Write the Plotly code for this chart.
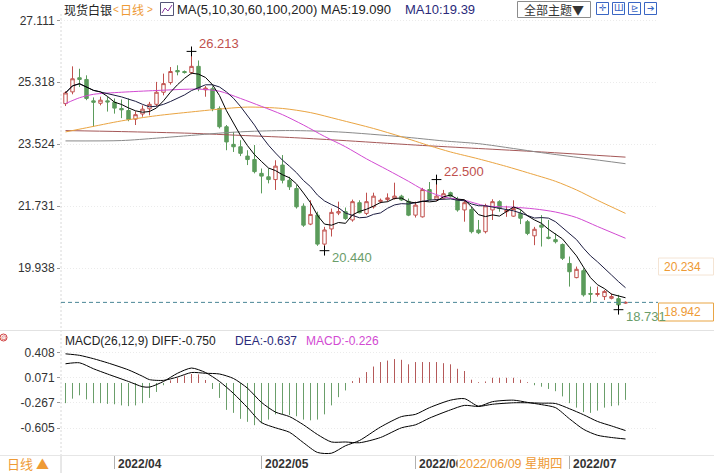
import plotly.graph_objects as go
import pandas as pd

W, H = 714, 473

# ---------------- data ----------------
dates = pd.bdate_range("2022-03-23", periods=81)
opens = [24.70, 25.04, 25.45, 25.40, 24.78, 24.71, 24.78, 24.74, 24.56, 24.50,
         24.25, 24.40, 24.55, 24.68, 25.03, 25.31, 25.66, 25.63, 25.60, 25.78,
         25.10, 25.13, 24.56, 24.03, 23.52, 23.45, 23.18, 23.08, 22.68, 22.58,
         22.50, 22.92, 22.48, 22.24, 21.73, 21.21, 21.47, 20.63, 21.07, 21.53,
         21.57, 21.33, 21.83, 21.52, 21.71, 21.86, 21.92, 21.95, 22.02, 21.87,
         21.47, 21.42, 22.21, 21.93, 21.96, 22.12, 21.92, 21.62, 21.63, 21.04,
         20.99, 21.62, 21.86, 21.57, 21.44, 21.52, 21.28, 20.87, 21.18, 20.83,
         20.76, 20.62, 20.07, 19.66, 19.86, 19.20, 19.17, 19.11, 19.06, 19.05,
         18.92]
highs = [25.06, 25.78, 25.71, 25.52, 24.88, 24.90, 24.90, 24.85, 24.82, 24.85,
         24.48, 24.65, 24.75, 25.33, 25.57, 25.76, 25.81, 25.66, 26.213, 25.95,
         25.21, 25.20, 24.62, 24.08, 23.88, 23.64, 23.35, 23.50, 22.82, 22.82,
         23.06, 23.21, 22.58, 22.34, 21.81, 21.90, 21.57, 21.13, 21.66, 21.86,
         21.69, 21.92, 21.90, 22.12, 22.12, 21.95, 22.10, 22.41, 22.06, 21.95,
         21.86, 22.26, 22.43, 22.50, 22.20, 22.15, 22.00, 21.91, 21.71, 21.33,
         21.80, 21.93, 21.90, 21.74, 21.90, 21.62, 21.33, 21.13, 21.47, 21.33,
         20.94, 20.65, 20.27, 19.98, 19.93, 19.40, 19.40, 19.30, 19.20, 19.16,
         18.97]
lows = [24.63, 24.97, 25.18, 24.80, 24.03, 24.65, 24.47, 24.41, 24.28, 24.19,
        24.08, 24.32, 24.36, 24.62, 24.94, 25.25, 25.52, 25.57, 25.55, 25.06,
        24.90, 24.48, 23.98, 23.35, 23.30, 23.18, 22.92, 22.68, 22.10, 22.39,
        22.20, 22.39, 22.20, 21.66, 21.13, 21.18, 20.58, 20.44, 20.85, 21.47,
        21.33, 21.28, 21.52, 21.47, 21.66, 21.81, 21.86, 21.92, 21.88, 21.44,
        21.40, 21.40, 21.90, 21.88, 21.95, 21.98, 21.57, 21.28, 20.94, 20.92,
        20.94, 21.33, 21.57, 21.42, 21.42, 21.21, 20.89, 20.60, 20.56, 20.77,
        20.65, 20.17, 19.40, 19.64, 19.11, 18.94, 19.11, 19.01, 19.03, 18.731,
        18.90]
closes = [25.01, 25.42, 25.40, 24.85, 24.74, 24.80, 24.75, 24.57, 24.52, 24.24,
          24.38, 24.54, 24.68, 25.03, 25.28, 25.63, 25.62, 25.60, 25.78, 25.14,
          25.15, 24.56, 24.03, 23.59, 23.45, 23.26, 23.08, 22.73, 22.60, 22.50,
          22.89, 22.48, 22.29, 21.71, 21.18, 21.49, 20.63, 21.04, 21.55, 21.57,
          21.37, 21.86, 21.54, 21.86, 22.02, 21.90, 21.97, 22.02, 21.91, 21.47,
          21.76, 22.21, 21.92, 22.02, 22.09, 22.02, 21.62, 21.83, 20.99, 20.96,
          21.74, 21.86, 21.66, 21.61, 21.66, 21.38, 20.94, 21.06, 21.12, 20.80,
          20.70, 20.22, 19.83, 19.90, 19.16, 19.18, 19.20, 19.26, 19.11, 18.87,
          18.942]

# long moving averages (candle index, value)
ma30_idx = [0, 2, 4, 8, 13, 19, 22, 25, 28, 31, 34, 37, 40, 43, 46, 49, 51, 54, 57, 60, 64, 67, 70, 73, 76, 80]
ma30_val = [24.70, 24.87, 24.97, 25.03, 25.08, 25.12, 25.06, 24.85, 24.62, 24.38, 24.08, 23.75, 23.45,
            23.10, 22.78, 22.45, 22.22, 22.00, 21.90, 21.74, 21.70, 21.65, 21.56, 21.40, 21.14, 20.80]
ma60_idx = [0, 3, 8, 13, 18, 23, 26, 31, 35, 39, 44, 48, 52, 55, 59, 63, 66, 70, 73, 76, 80]
ma60_val = [23.88, 24.00, 24.20, 24.35, 24.46, 24.56, 24.60, 24.56, 24.44, 24.24, 23.98, 23.74,
            23.48, 23.30, 23.10, 22.88, 22.70, 22.45, 22.20, 21.90, 21.52]
ma100_idx = [0, 8, 13, 18, 23, 27, 32, 39, 48, 54, 59, 64, 68, 74, 80]
ma100_val = [23.62, 23.63, 23.70, 23.78, 23.86, 23.90, 23.92, 23.88, 23.74, 23.62, 23.54, 23.40, 23.28, 23.12, 22.96]
ma200_idx = [0, 8, 18, 25, 32, 39, 50, 59, 68, 80]
ma200_val = [23.92, 23.89, 23.84, 23.78, 23.72, 23.64, 23.50, 23.40, 23.30, 23.15]

macd_hist = [-0.27, -0.21, -0.165, -0.22, -0.27, -0.27, -0.28, -0.285, -0.30, -0.31,
             -0.30, -0.27, -0.20, -0.12, -0.03, 0.035, 0.07, 0.10, 0.12, 0.115,
             0.04, -0.08, -0.20, -0.36, -0.40, -0.48, -0.52, -0.565, -0.54, -0.49,
             -0.42, -0.42, -0.43, -0.445, -0.49, -0.50, -0.49, -0.42, -0.30, -0.19,
             -0.10, 0.025, 0.07, 0.146, 0.22, 0.28, 0.30, 0.32, 0.31, 0.25,
             0.28, 0.28, 0.28, 0.28, 0.265, 0.25, 0.19, 0.16, 0.044, 0.01,
             0.02, 0.07, 0.07, 0.07, 0.07, 0.044, 0.01, -0.03, -0.05, -0.08,
             -0.11, -0.18, -0.27, -0.33, -0.39, -0.40, -0.37, -0.33, -0.31, -0.30,
             -0.226]
diff_idx = [0, 2, 4, 6, 9, 11, 12, 14, 16, 18, 20, 22, 24, 26, 28, 30, 32, 34, 36, 38, 40, 42,
            45, 48, 50, 52, 55, 57, 59, 61, 64, 66, 68, 70, 72, 74, 76, 78, 80]
diff_val = [0.257, 0.27, 0.19, 0.12, 0.02, -0.05, -0.055, 0.02, 0.13, 0.20, 0.14, 0.02, -0.14, -0.33,
            -0.53, -0.60, -0.66, -0.80, -0.93, -0.94, -0.84, -0.77, -0.59, -0.45, -0.42, -0.33, -0.23,
            -0.21, -0.31, -0.25, -0.23, -0.26, -0.29, -0.33, -0.48, -0.62, -0.70, -0.73, -0.75]
dea_idx = diff_idx
dea_val = [0.39, 0.37, 0.325, 0.27, 0.175, 0.09, 0.045, 0.035, 0.08, 0.14, 0.13, 0.12, 0.06, -0.07,
           -0.26, -0.39, -0.45, -0.56, -0.69, -0.79, -0.79, -0.80, -0.73, -0.60, -0.56, -0.47, -0.36,
           -0.30, -0.315, -0.285, -0.265, -0.265, -0.27, -0.275, -0.345, -0.425, -0.515, -0.575, -0.637]

price_ticks_left = [27.111, 25.318, 23.524, 21.731, 19.938]
price_ticks_right = [27.111, 25.318, 23.524, 21.731]
macd_ticks = [0.408, 0.071, -0.267, -0.605]
month_labels = ["2022/04", "2022/05", "2022/06", "2022/07"]
last_price = 18.942
cross_price = 20.234
extremes = [(18, 26.213, "26.213", "high"), (53, 22.500, "22.500", "high"),
            (37, 20.440, "20.440", "low"), (79, 18.731, "18.731", "low")]

# ---------------- derived ----------------
xs = list(range(len(closes)))
cs = pd.Series(closes)
ma5 = cs.rolling(5, min_periods=1).mean()
ma10 = cs.rolling(10, min_periods=1).mean()
month_idx = [i for i in range(1, len(dates)) if dates[i].month != dates[i - 1].month]

RED = "#c0504d"
GREEN = "#5b9b5b"
ORANGE = "#ee9a35"
NAVY = "#2a2a7a"
MAG = "#d24ad2"
LAT = "Liberation Sans, Arial, Noto Sans CJK SC, sans-serif"
CJK = "Noto Sans CJK SC, Liberation Sans, sans-serif"

XL, XR = 61, 656
px_per = 7.0
r0 = -(65.5 - XL) / px_per
r1 = r0 + (XR - XL) / px_per

# main price panel mapping
P_TOP, P_BOT = 15, 328
p_scale = 34.52
p_hi = 27.111 + (20.4 - P_TOP) / p_scale
p_lo = 27.111 - (P_BOT - 20.4) / p_scale
# macd panel mapping
M_TOP, M_BOT = 333, 455
m_scale = 74.7
m_hi = 0.408 + (352.5 - M_TOP) / m_scale
m_lo = 0.408 - (M_BOT - 352.5) / m_scale


def PX(px):
    return px / W


def PY(py):
    return 1 - py / H


fig = go.Figure()

fig.add_trace(go.Candlestick(
    x=xs, open=opens, high=highs, low=lows, close=closes,
    increasing=dict(line=dict(color=RED, width=1), fillcolor="#ffffff"),
    decreasing=dict(line=dict(color=GREEN, width=1), fillcolor=GREEN),
    whiskerwidth=0, hoverinfo="skip", showlegend=False, xaxis="x", yaxis="y"))

for ix, vals, col in [(ma200_idx, ma200_val, "#a55858"), (ma100_idx, ma100_val, "#8a8a8a"),
                      (ma60_idx, ma60_val, "#eaa441"), (ma30_idx, ma30_val, MAG)]:
    fig.add_trace(go.Scatter(x=ix, y=vals, mode="lines", line=dict(color=col, width=1, shape="spline", smoothing=0.8),
                             hoverinfo="skip", xaxis="x", yaxis="y"))
fig.add_trace(go.Scatter(x=xs, y=ma10, mode="lines", line=dict(color="#1b1b40", width=1), hoverinfo="skip",
                         xaxis="x", yaxis="y"))
fig.add_trace(go.Scatter(x=xs, y=ma5, mode="lines", line=dict(color="#000000", width=1), hoverinfo="skip",
                         xaxis="x", yaxis="y"))

# extreme markers
fig.add_trace(go.Scatter(x=[e[0] for e in extremes], y=[e[1] for e in extremes], mode="markers",
                         marker=dict(symbol="cross-thin", size=7, line=dict(color="#000", width=1)),
                         hoverinfo="skip", xaxis="x", yaxis="y"))

# MACD histogram as thin vertical lines
for sign, col in [(1, "#b55a5a"), (-1, "#6a9e6a")]:
    hx, hy = [], []
    for i, h in enumerate(macd_hist):
        if (h >= 0) == (sign > 0):
            hx += [i, i, None]
            hy += [0, h, None]
    fig.add_trace(go.Scatter(x=hx, y=hy, mode="lines", line=dict(color=col, width=1), hoverinfo="skip",
                             xaxis="x2", yaxis="y2"))
fig.add_trace(go.Scatter(x=diff_idx, y=diff_val, mode="lines", line=dict(color="#000", width=1, shape="spline", smoothing=0.7),
                         hoverinfo="skip", xaxis="x2", yaxis="y2"))
fig.add_trace(go.Scatter(x=dea_idx, y=dea_val, mode="lines", line=dict(color="#000", width=1, shape="spline", smoothing=0.7),
                         hoverinfo="skip", xaxis="x2", yaxis="y2"))

tickfont = dict(family=LAT, size=12, color="#333333")
grid = dict(showgrid=True, gridcolor="#ebebeb", griddash="1px,2px", gridwidth=1, zeroline=False)

fig.update_layout(
    width=W, height=H, margin=dict(l=0, r=0, t=0, b=0),
    paper_bgcolor="white", plot_bgcolor="white", showlegend=False,
    xaxis=dict(domain=[PX(XL), PX(XR)], range=[r0, r1], anchor="y", showticklabels=False, ticks="",
               showgrid=False, zeroline=False, rangeslider=dict(visible=False), fixedrange=True),
    xaxis2=dict(domain=[PX(XL), PX(XR)], range=[r0, r1], anchor="y2", tickvals=month_idx,
                ticktext=[""] * len(month_idx), ticks="outside", ticklen=13, tickcolor="#b0b0b0",
                showgrid=False, zeroline=False, showline=False),
    yaxis=dict(domain=[PY(P_BOT), PY(P_TOP)], range=[p_lo, p_hi], anchor="x",
               tickvals=price_ticks_left, ticktext=[f"{v:.3f}" for v in price_ticks_left],
               ticks="outside", ticklen=3, tickcolor="#999", tickfont=tickfont, **grid),
    yaxis3=dict(overlaying="y", side="right", anchor="x", range=[p_lo, p_hi],
                tickvals=price_ticks_right, ticktext=[f"{v:.3f}" for v in price_ticks_right],
                ticks="outside", ticklen=4, tickcolor="rgba(0,0,0,0)", tickfont=tickfont,
                showgrid=False, zeroline=False),
    yaxis2=dict(domain=[PY(M_BOT), PY(M_TOP)], range=[m_lo, m_hi], anchor="x2",
                tickvals=macd_ticks, ticktext=[f"{v:.3f}" for v in macd_ticks],
                ticks="outside", ticklen=3, tickcolor="#999", tickfont=tickfont, **grid),
    yaxis4=dict(overlaying="y2", side="right", anchor="x2", range=[m_lo, m_hi],
                tickvals=macd_ticks, ticktext=[f"{v:.3f}" for v in macd_ticks],
                ticks="outside", ticklen=4, tickcolor="rgba(0,0,0,0)", tickfont=tickfont,
                showgrid=False, zeroline=False),
)

shapes = []
# frame / separator lines
shapes.append(dict(type="line", xref="paper", yref="paper", x0=PX(XL), x1=PX(XL), y0=PY(14), y1=PY(455),
                   line=dict(color="#d8d8d8", width=1, dash="2px,2px")))
shapes.append(dict(type="line", xref="paper", yref="paper", x0=PX(XL), x1=PX(XL), y0=PY(455), y1=PY(473),
                   line=dict(color="#d0d0d0", width=1)))
shapes.append(dict(type="line", xref="paper", yref="paper", x0=0, x1=1, y0=PY(330.5), y1=PY(330.5),
                   line=dict(color="#e2e2e2", width=1)))
shapes.append(dict(type="line", xref="paper", yref="paper", x0=0, x1=1, y0=PY(455.5), y1=PY(455.5),
                   line=dict(color="#e6e6e6", width=1)))
# last price dashed line
shapes.append(dict(type="line", xref="paper", yref="y", x0=PX(XL), x1=PX(658), y0=last_price, y1=last_price,
                   line=dict(color="#4a8797", width=1, dash="4px,3px")))
# right side price boxes
shapes.append(dict(type="rect", xref="paper", yref="paper", x0=PX(658.5), x1=PX(713.5), y0=PY(258), y1=PY(275),
                   line=dict(color="#f4e4d4", width=1), fillcolor="white"))
shapes.append(dict(type="rect", xref="paper", yref="paper", x0=PX(658.5), x1=PX(713.5), y0=PY(303), y1=PY(321),
                   line=dict(color="#e9a545", width=1), fillcolor="white"))
# MA icon
shapes.append(dict(type="rect", xref="paper", yref="paper", x0=PX(160.5), x1=PX(173.5), y0=PY(2.5), y1=PY(15.5),
                   line=dict(color="#555577", width=1), fillcolor="white"))
shapes.append(dict(type="path", xref="paper", yref="paper",
                   path=f"M {PX(162)} {PY(13)} L {PX(165)} {PY(8)} L {PX(168)} {PY(11)} L {PX(172)} {PY(5)}",
                   line=dict(color="#8a3aa0", width=1)))
# theme button
shapes.append(dict(type="rect", xref="paper", yref="paper", x0=PX(517.5), x1=PX(590.5), y0=PY(1.5), y1=PY(17.5),
                   line=dict(color="#8c8c8c", width=1), fillcolor="white"))
# toolbar icons
for k, x0 in enumerate([596, 612, 628, 644]):
    shapes.append(dict(type="rect", xref="paper", yref="paper", x0=PX(x0 + 0.5), x1=PX(x0 + 12.5), y0=PY(2.5),
                       y1=PY(14.5), line=dict(color="#3a66c4", width=1), fillcolor="white"))
# small red icon left of MACD
shapes.append(dict(type="circle", xref="paper", yref="paper", x0=PX(0), x1=PX(7), y0=PY(334), y1=PY(341),
                   line=dict(color="#d04040", width=1)))
fig.update_layout(shapes=shapes)

ann = []


def A(text, px, py, color="#222", size=13, family=LAT, xanchor="left", **kw):
    ann.append(dict(text=text, x=PX(px), y=PY(py), xref="paper", yref="paper", xanchor=xanchor,
                    yanchor="middle", showarrow=False, font=dict(family=family, size=size, color=color), **kw))


# top row
A("现货白银", 62, 9.5, "#222", 12, CJK)
A("<", 111, 9.5, ORANGE, 10, LAT)
A("日线", 118, 9.5, ORANGE, 12, CJK)
A(">", 145, 9.5, ORANGE, 10, LAT)
A("MA(5,10,30,60,100,200) MA5:19.090", 175, 9.5, "#222", 13, LAT)
A("MA10:19.39", 403, 9.5, NAVY, 13, LAT)
A("全部主题▼", 554, 9.5, "#333", 12, CJK, xanchor="center")
for k, (x0, g) in enumerate(zip([596, 612, 628, 644], ["✛", "Ш", "⊵", "➔"])):
    A(g, x0 + 6.5, 8.5, "#3a66c4", 9, "DejaVu Sans", xanchor="center")
A("⊙", 3.5, 337.5, "#d04040", 7, "DejaVu Sans", xanchor="center")

# MACD title
A("MACD(26,12,9) DIFF:-0.750", 63, 341, "#222", 12, LAT)
A("DEA:-0.637", 233, 341, NAVY, 12, LAT)
A("MACD:-0.226", 304, 341, MAG, 12, LAT)

# right price labels
A(f"{cross_price:.3f}", 662, 266.5, ORANGE, 12, LAT)
A(f"{last_price:.3f}", 662, 312, ORANGE, 12, LAT)

# extreme labels
for i, v, t, kind in extremes:
    col = RED if kind == "high" else "#6a9d6a"
    ann.append(dict(text=t, x=i, y=v, xref="x", yref="y", xanchor="left", yanchor="middle", showarrow=False,
                    xshift=5, yshift=8 if kind == "high" else -7,
                    font=dict(family=LAT, size=13, color=col)))

# month labels
for i, t in zip(month_idx, month_labels):
    ann.append(dict(text=f"<b>{t}</b>", x=i, y=PY(463.5), xref="x2", yref="paper", xanchor="left",
                    yanchor="middle", showarrow=False, xshift=1,
                    font=dict(family=LAT, size=12, color="#333")))
crossdate = dates[56]
wk = "一二三四五六日"[crossdate.weekday()]
A(f"{crossdate.strftime('%Y/%m/%d')} 星期{wk}", 457, 463.5, ORANGE, 12.5, LAT, bgcolor="white")
A("日线 ▲", 5, 463.5, ORANGE, 13, CJK)

fig.update_layout(annotations=ann)
fig.write_html("out.html")
